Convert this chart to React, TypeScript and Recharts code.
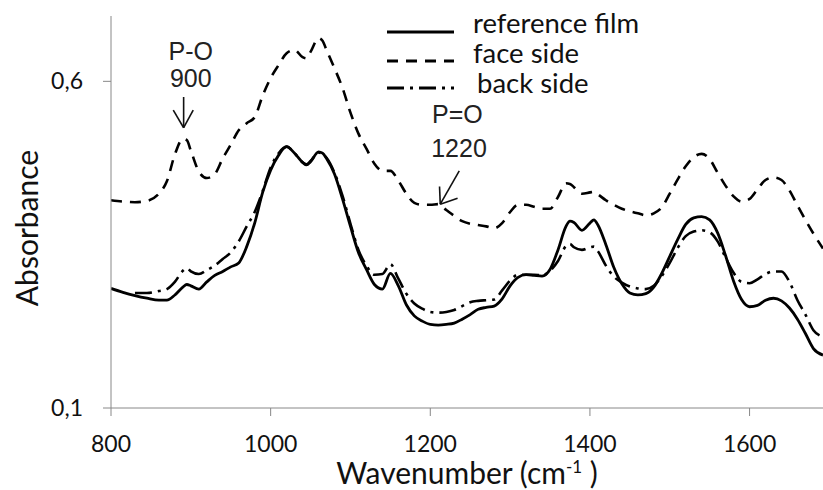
import React from 'react';
import {
  LineChart,
  Line,
  XAxis,
  YAxis,
  Legend,
  ReferenceLine,
  ReferenceDot,
  Label,
} from 'recharts';

const wavenumbers = [
  800, 815, 830, 845, 860, 870, 880, 890, 895, 900, 910, 920, 930, 940, 950, 960, 970, 980, 990,
  1000, 1010, 1020, 1030, 1040, 1045, 1050, 1060, 1065, 1070, 1080, 1090, 1100, 1110, 1120, 1130,
  1140, 1150, 1160, 1170, 1180, 1190, 1200, 1210, 1220, 1230, 1240, 1250, 1260, 1270, 1280, 1290,
  1300, 1310, 1320, 1330, 1340, 1350, 1360, 1370, 1375, 1380, 1390, 1400, 1405, 1410, 1420, 1430,
  1440, 1450, 1460, 1470, 1480, 1490, 1500, 1510, 1520, 1530, 1540, 1550, 1560, 1570, 1580, 1590,
  1600, 1610, 1620, 1630, 1640, 1650, 1660, 1670, 1680, 1692,
];

const faceSide = [
  0.418, 0.416, 0.415, 0.417, 0.428, 0.447, 0.488, 0.512, 0.51, 0.494, 0.462, 0.452, 0.458, 0.482,
  0.503, 0.525, 0.536, 0.545, 0.578, 0.605, 0.625, 0.643, 0.648, 0.637, 0.635, 0.645, 0.666, 0.662,
  0.648, 0.62, 0.59, 0.552, 0.52, 0.497, 0.474, 0.463, 0.463, 0.448, 0.428, 0.414, 0.411, 0.411,
  0.412, 0.403, 0.394, 0.386, 0.382, 0.38, 0.378, 0.375, 0.383, 0.4, 0.411, 0.411, 0.408, 0.405,
  0.405, 0.423, 0.444, 0.443, 0.438, 0.428, 0.43, 0.431, 0.427, 0.418, 0.411, 0.405, 0.401, 0.398,
  0.395, 0.398, 0.407, 0.428, 0.45, 0.47, 0.484, 0.489, 0.481, 0.46, 0.44, 0.424, 0.416, 0.42,
  0.435, 0.449, 0.453, 0.449, 0.433, 0.41, 0.388, 0.367, 0.344,
];

const referenceFilm = [
  0.283, 0.277, 0.272, 0.268, 0.265, 0.265, 0.273, 0.285, 0.289, 0.287, 0.282, 0.293, 0.303, 0.309,
  0.316, 0.322, 0.347, 0.383, 0.43, 0.464, 0.487, 0.5, 0.49, 0.476, 0.472, 0.477, 0.492, 0.49, 0.482,
  0.458, 0.42, 0.378, 0.338, 0.312, 0.289, 0.282, 0.306, 0.287, 0.258, 0.241, 0.233, 0.228, 0.227,
  0.228, 0.23, 0.236, 0.243, 0.251, 0.254, 0.256, 0.267, 0.287, 0.3, 0.304, 0.303, 0.302, 0.312,
  0.342, 0.378, 0.386, 0.384, 0.372, 0.383, 0.388, 0.38, 0.35, 0.315, 0.29, 0.276, 0.273, 0.275,
  0.285, 0.306, 0.332, 0.358, 0.381, 0.391, 0.393, 0.388, 0.368, 0.333, 0.294, 0.266, 0.255, 0.257,
  0.265, 0.268, 0.264, 0.253, 0.236, 0.214, 0.191, 0.181,
];

const backSide = [
  null, null, 0.276, 0.276, 0.279, 0.282, 0.293, 0.31, 0.314, 0.309, 0.305, 0.311, 0.318, 0.328,
  0.338, 0.355, 0.378, 0.4, 0.432, 0.468, 0.49, 0.5, 0.49, 0.476, 0.473, 0.478, 0.491, 0.489, 0.483,
  0.46, 0.425, 0.382, 0.342, 0.318, 0.304, 0.305, 0.32, 0.298, 0.275, 0.26, 0.252, 0.247, 0.246,
  0.247, 0.25, 0.256, 0.262, 0.264, 0.265, 0.266, 0.28, 0.295, 0.304, 0.304, 0.304, 0.303, 0.31,
  0.325, 0.348, 0.351, 0.346, 0.342, 0.346, 0.347, 0.34, 0.318, 0.301, 0.292, 0.286, 0.283, 0.282,
  0.287, 0.302, 0.322, 0.345, 0.363, 0.37, 0.372, 0.369, 0.355, 0.33, 0.307, 0.293, 0.291, 0.297,
  0.305, 0.309, 0.309, 0.293, 0.265, 0.243, 0.219, 0.209,
];

const seriesNames = ['reference film', 'face side', 'back side'];
const xTicks = [800, 1000, 1200, 1400, 1600];
const yTicks = [0.1, 0.6];
const xDomain = [800, 1692];
const yDomain = [0.1, 0.7];

const data = wavenumbers.map((w, i) => ({
  w,
  ref: referenceFilm[i],
  face: faceSide[i],
  back: backSide[i],
}));

const TICK_FONT = 'Lato, "Open Sans", sans-serif';
const ANNOT_FONT = '"Liberation Sans", Arial, sans-serif';

const DASH = '11 8';
const DASHDOT = '17 6 3 6';

const LegendBox = () => {
  const rows = [
    { name: seriesNames[0], dash: undefined, lineY: 32, textY: 33, textX: 473 },
    { name: seriesNames[1], dash: DASH, lineY: 61, textY: 63, textX: 473 },
    { name: seriesNames[2], dash: DASHDOT, lineY: 88, textY: 93, textX: 477 },
  ];
  return (
    <svg width={823} height={100} style={{ display: 'block' }}>
      {rows.map((r) => (
        <g key={r.name}>
          <line x1={387} x2={454} y1={r.lineY} y2={r.lineY} stroke="#000" strokeWidth={3.2} strokeDasharray={r.dash} />
          <text x={r.textX} y={r.textY} fontFamily={TICK_FONT} fontSize={27.5} fill="#111">
            {r.name}
          </text>
        </g>
      ))}
    </svg>
  );
};

const AnnotText = (text: string) => (props: any) => (
  <text x={props.cx} y={props.cy} textAnchor="middle" fontFamily={ANNOT_FONT} fontSize={25} fill="#222">
    {text}
  </text>
);

const XTitle = (props: any) => {
  const vb = props.viewBox || { x: 111, y: 408, width: 712, height: 82 };
  const cx = vb.x + vb.width / 2;
  const y = vb.y + 76;
  return (
    <text x={cx} y={y} textAnchor="middle" fontFamily={TICK_FONT} fontSize={30} fill="#111">
      <tspan>Wavenumber (cm</tspan>
      <tspan dy={-11} fontSize={17}>-1</tspan>
      <tspan dy={11}> )</tspan>
    </text>
  );
};

const YTitle = () => {
  const x = 38;
  const y = 228;
  return (
    <text x={x} y={y} transform={`rotate(-90, ${x}, ${y})`} textAnchor="middle" fontFamily={TICK_FONT} fontSize={30} fill="#111">
      Absorbance
    </text>
  );
};

const arrowStroke = { stroke: '#111', strokeWidth: 1.6, ifOverflow: 'visible' as const };

export default function App() {
  return (
    <div style={{ position: 'absolute', left: 0, top: 0, width: 823, height: 490, background: '#fff' }}>
      <LineChart
        width={823}
        height={490}
        data={data}
        margin={{ top: 16, right: 0, bottom: 0, left: 1 }}
      >
        <XAxis
          dataKey="w"
          type="number"
          domain={xDomain}
          ticks={xTicks}
          allowDataOverflow
          height={82}
          tickSize={8}
          tickMargin={20}
          stroke="#888"
          tick={{ fill: '#111', fontSize: 23, fontFamily: TICK_FONT }}
        >
          <Label content={XTitle} />
        </XAxis>
        <YAxis
          type="number"
          domain={yDomain}
          ticks={yTicks}
          allowDataOverflow
          width={110}
          tickSize={8}
          tickMargin={20}
          stroke="#888"
          tickFormatter={(v: number) => v.toFixed(1).replace('.', ',')}
          tick={{ fill: '#111', fontSize: 23, fontFamily: TICK_FONT }}
        >
          <Label content={YTitle} />
        </YAxis>
        <Legend
          layout="vertical"
          align="center"
          verticalAlign="middle"
          content={() => <LegendBox />}
          wrapperStyle={{ position: 'absolute', left: 0, top: 0, width: 823, height: 100 }}
        />
        <Line
          dataKey="face"
          name={seriesNames[1]}
          type="monotone"
          stroke="#000"
          strokeWidth={2.6}
          strokeDasharray={DASH}
          dot={false}
          activeDot={false}
          isAnimationActive={false}
        />
        <Line
          dataKey="back"
          name={seriesNames[2]}
          type="monotone"
          stroke="#000"
          strokeWidth={2.6}
          strokeDasharray={DASHDOT}
          dot={false}
          activeDot={false}
          isAnimationActive={false}
        />
        <Line
          dataKey="ref"
          name={seriesNames[0]}
          type="monotone"
          stroke="#000"
          strokeWidth={2.8}
          dot={false}
          activeDot={false}
          isAnimationActive={false}
        />
        <ReferenceLine segment={[{ x: 891, y: 0.576 }, { x: 891, y: 0.529 }]} {...arrowStroke} />
        <ReferenceLine segment={[{ x: 878, y: 0.556 }, { x: 891, y: 0.529 }]} {...arrowStroke} />
        <ReferenceLine segment={[{ x: 903, y: 0.556 }, { x: 891, y: 0.529 }]} {...arrowStroke} />
        <ReferenceLine segment={[{ x: 1236.3, y: 0.463 }, { x: 1212.5, y: 0.412 }]} {...arrowStroke} />
        <ReferenceLine segment={[{ x: 1211.6, y: 0.439 }, { x: 1212.5, y: 0.412 }]} {...arrowStroke} />
        <ReferenceLine segment={[{ x: 1234.2, y: 0.421 }, { x: 1212.5, y: 0.412 }]} {...arrowStroke} />
        <ReferenceDot x={900} y={0.633} r={0} ifOverflow="visible" shape={AnnotText('P-O')} />
        <ReferenceDot x={900} y={0.5907} r={0} ifOverflow="visible" shape={AnnotText('900')} />
        <ReferenceDot x={1234} y={0.5357} r={0} ifOverflow="visible" shape={AnnotText('P=O')} />
        <ReferenceDot x={1236} y={0.4843} r={0} ifOverflow="visible" shape={AnnotText('1220')} />
      </LineChart>
    </div>
  );
}
